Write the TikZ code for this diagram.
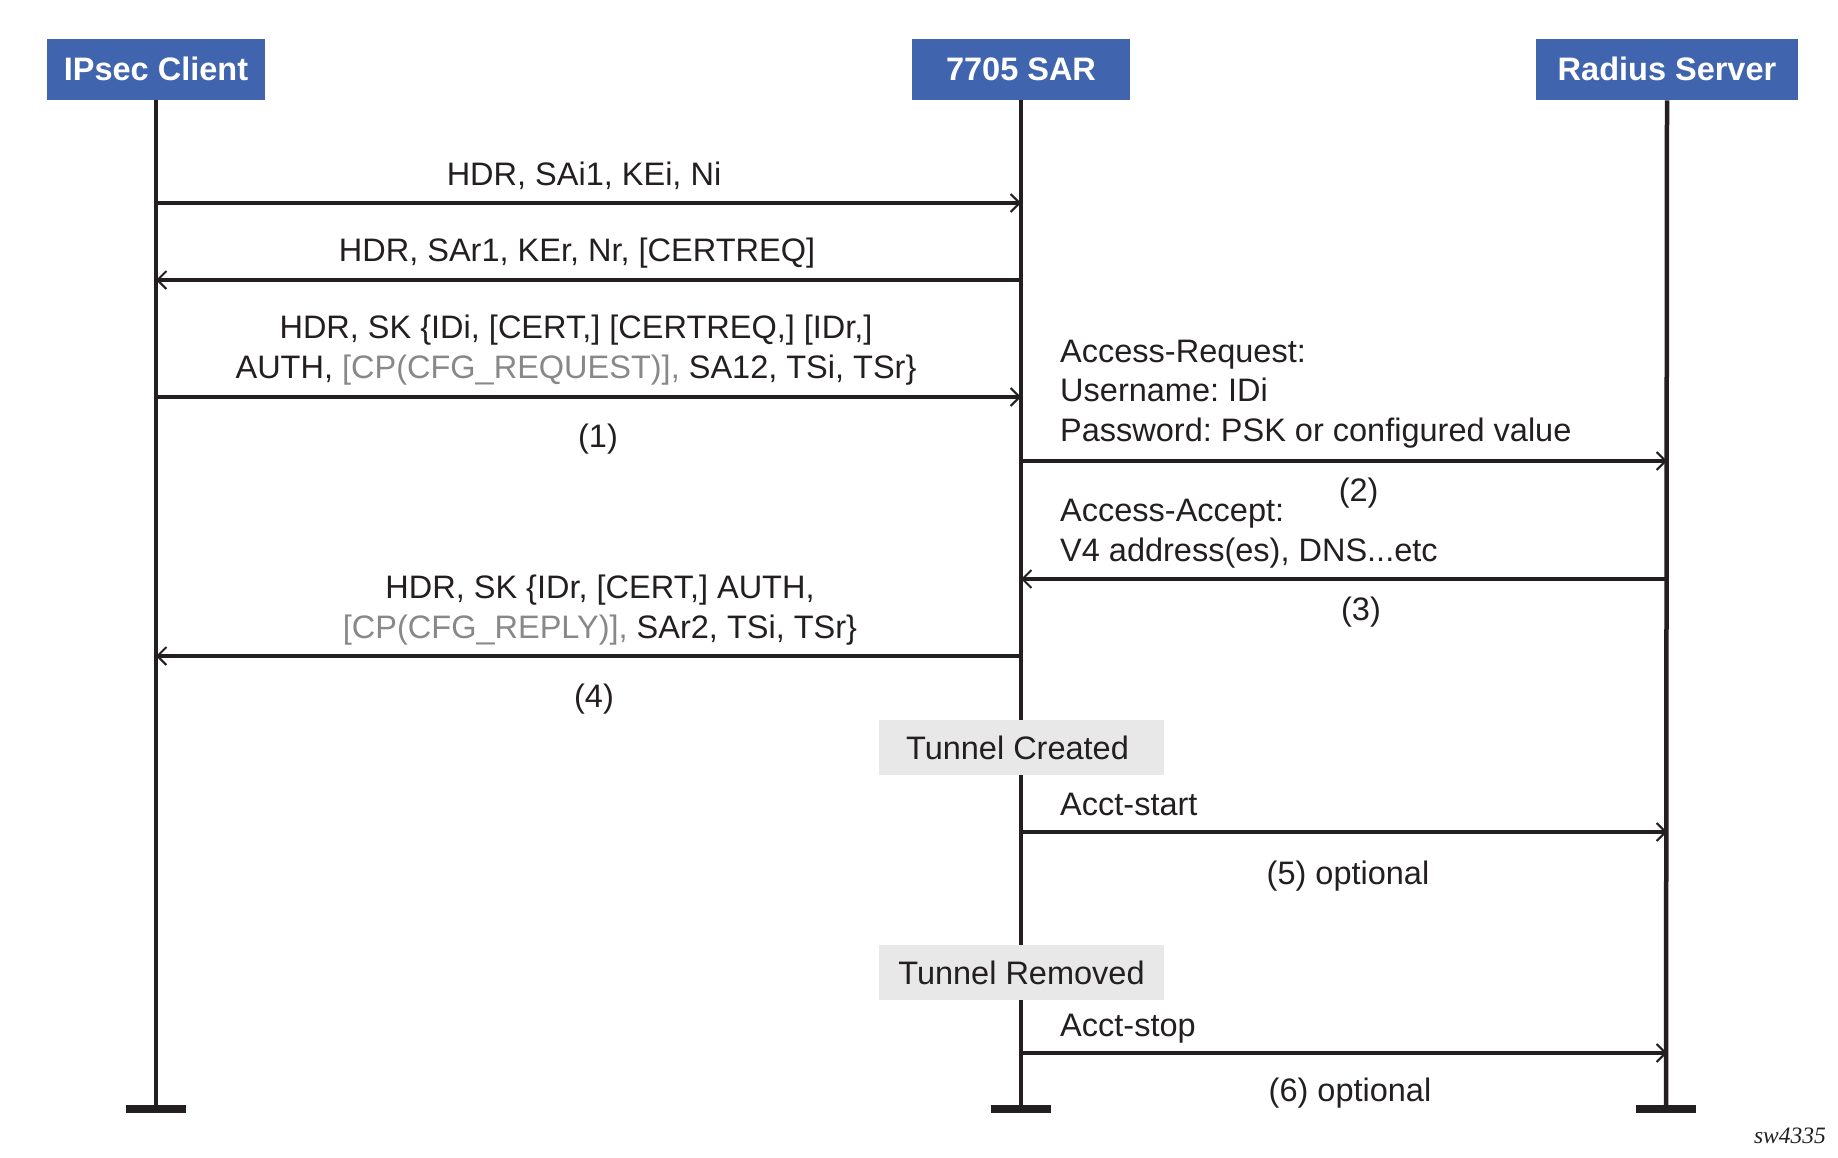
\documentclass[tikz,border=0pt]{standalone}
\usepackage{fontspec}
\setmainfont{Liberation Sans}
\newfontfamily\serifit{Liberation Serif}
\usetikzlibrary{arrows.meta}
\definecolor{hdrblue}{HTML}{4064AD}
\definecolor{ink}{HTML}{231F20}
\definecolor{cpgray}{HTML}{888888}
\definecolor{boxgray}{HTML}{E8E8E8}
\frenchspacing
\begin{document}
\begin{tikzpicture}[x=1pt,y=-1pt,
  every node/.style={font=\fontsize{32.5}{40}\selectfont, inner sep=0pt, text=ink},
  header/.style={fill=hdrblue, text=white, font=\fontsize{32.5}{40}\selectfont\bfseries,
    minimum height=61pt, text height=21pt, text depth=0pt, anchor=north},
  lifeline/.style={draw=ink, line width=4.5pt},
  msg/.style={draw=ink, line width=3.5pt, -{Straight Barb[length=9pt,width=18pt,line width=2pt]}},
  lbl/.style={anchor=base},
  lblw/.style={anchor=base west},
  statebox/.style={fill=boxgray, minimum width=285pt, minimum height=55pt, text height=23.3pt, text depth=0pt},
  endbar/.style={fill=ink, minimum width=60pt, minimum height=8pt}]
\useasboundingbox (0,0) rectangle (1838,1157);

% headers
\node[header, minimum width=218pt] (client) at (156,39) {IPsec Client};
\node[header, minimum width=218pt] (sar) at (1021,39) {7705 SAR};
\node[header, minimum width=262pt] (radius) at (1667,39) {Radius Server};

% end bars
\node[endbar] (clientend) at (156,1109) {};
\node[endbar] (sarend) at (1021,1109) {};
\node[endbar] (radiusend) at (1666,1109) {};

% lifelines
\draw[lifeline] (client.south) -- (clientend.center);
\draw[lifeline] (sar.south) -- (sarend.center);
\draw[lifeline] (radius.south) -- (radiusend.center);

% state boxes
\node[statebox] (created) at (1021.5,747.5) {\hspace*{-8pt}Tunnel Created};
\node[statebox] (removed) at (1021.5,972.5) {Tunnel Removed};

% message end points
\coordinate (m1c) at (156,203);  \coordinate (m1s) at (1021,203);
\coordinate (m2c) at (156,280);  \coordinate (m2s) at (1021,280);
\coordinate (m3c) at (156,397);  \coordinate (m3s) at (1021,397);
\coordinate (rqs) at (1021,461); \coordinate (rqr) at (1667,461);
\coordinate (acs) at (1021,579); \coordinate (acr) at (1667,579);
\coordinate (m4c) at (156,656);  \coordinate (m4s) at (1021,656);
\coordinate (m5s) at (1021,832); \coordinate (m5r) at (1667,832);
\coordinate (m6s) at (1021,1053);\coordinate (m6r) at (1667,1053);

% messages
\draw[msg] (m1c) -- (m1s);
\draw[msg] (m2s) -- (m2c);
\draw[msg] (m3c) -- (m3s);
\draw[msg] (rqs) -- (rqr);
\draw[msg] (acr) -- (acs);
\draw[msg] (m4s) -- (m4c);
\draw[msg] (m5s) -- (m5r);
\draw[msg] (m6s) -- (m6r);

% labels
\node[lbl] (t1) at (584,185) {HDR, SAi1, KEi, Ni};
\node[lbl] (t2) at (577,261) {HDR, SAr1, KEr, Nr, [CERTREQ]};
\node[lbl] (t3a) at (576,338.5) {HDR, SK \{IDi, [CERT,] [CERTREQ,] [IDr,]};
\node[lbl] (t3b) at (576,378.5) {AUTH, \textcolor{cpgray}{[CP(CFG\_REQUEST)],} SA12, TSi, TSr\}};
\node[lbl] (n1) at (598,447.6) {(1)};
\node[lblw] (rq1) at (1060,362) {Access-Request:};
\node[lblw] (rq2) at (1060,401.8) {Username: IDi};
\node[lblw] (rq3) at (1060,441.7) {Password: PSK or configured value};
\node[lbl] (n2) at (1358.6,501.5) {(2)};
\node[lblw] (ac1) at (1060,521.4) {Access-Accept:};
\node[lblw] (ac2) at (1060,561.3) {V4 address(es), DNS...etc};
\node[lbl] (n3) at (1361,620) {(3)};
\node[lbl] (t4a) at (600,598.8) {HDR, SK \{IDr, [CERT,] AUTH,};
\node[lbl] (t4b) at (600,638.6) {\textcolor{cpgray}{[CP(CFG\_REPLY)],} SAr2, TSi, TSr\}};
\node[lbl] (n4) at (594,707.8) {(4)};
\node[lblw] (as) at (1060,815.6) {Acct-start};
\node[lbl] (n5) at (1348,884.8) {(5) optional};
\node[lblw] (ast) at (1060,1036) {Acct-stop};
\node[lbl] (n6) at (1350,1101.7) {(6) optional};
\node[anchor=base east, font=\fontsize{23.5}{28}\selectfont\serifit\itshape] (sw) at (1826,1143) {sw4335};
\end{tikzpicture}
\end{document}
